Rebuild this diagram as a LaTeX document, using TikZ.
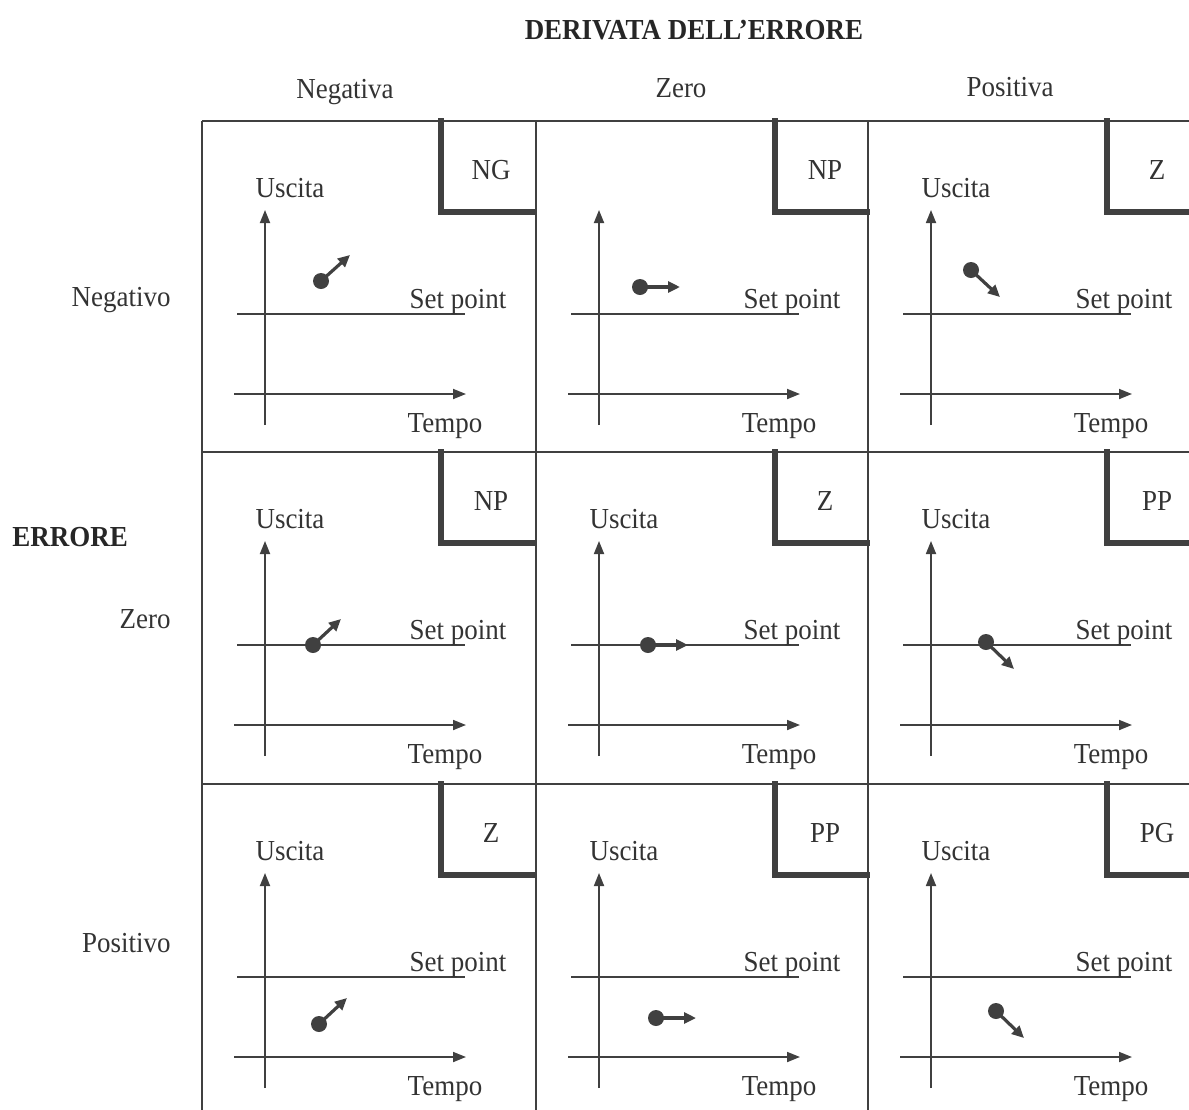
\documentclass[tikz,border=0pt]{standalone}
\usepackage{fontspec}
\setmainfont[FakeStretch=0.93]{Liberation Serif}
\usetikzlibrary{arrows.meta}

\begin{document}
\begin{tikzpicture}[
  x=0.5pt, y=-0.5pt,
  every node/.style={font=\fontsize{14.5}{17}\selectfont, text=black!80, inner sep=0pt},
  head/.style={font=\fontsize{14.5}{17}\selectfont\bfseries, text=black!85},
  grid/.style={draw=black!75, line width=1pt},
  tagbox/.style={draw=black!75, line width=2.6pt},
  axis/.style={draw=black!75, line width=0.9pt, -{Triangle[length=6.5pt, width=5pt]}},
  setline/.style={draw=black!75, line width=0.9pt},
  dot/.style={circle, fill=black!75, minimum size=8pt, inner sep=0pt},
  vec/.style={draw=black!75, line width=1.6pt, -{Triangle[length=6pt, width=5.5pt]}}
]
\useasboundingbox (0,0) rectangle (1189,1109);
\clip (0,0) rectangle (1189,1109);

% Headers
\node[head] (title) at (694,30) {DERIVATA DELL’ERRORE};
\node (col_neg) at (345,92) {Negativa};
\node (col_zero) at (681,88) {Zero};
\node (col_pos) at (1010,87) {Positiva};

\node[head, anchor=west] (err) at (12,537) {ERRORE};
\node[anchor=east] (row_neg) at (171,300) {Negativo};
\node[anchor=east] (row_zero) at (171,619) {Zero};
\node[anchor=east] (row_pos) at (171,943) {Positivo};

% Grid
\foreach \y in {121,452,784} \draw[grid] (202,\y) -- (1200,\y);
\foreach \x in {202,536,868} \draw[grid] (\x,121) -- (\x,1120);

% Cells: index / origin / tag / dot / vector / Uscita shown
\foreach \i/\cx/\cy/\tag/\px/\py/\vx/\vy/\usc in {
  11/202/121/NG/119/160/29/-26/1,
  21/536/121/NP/104/166/40/0/0,
  31/868/121/Z/103/149/29/27/1,
  12/202/452/NP/111/193/28/-26/1,
  22/536/452/Z/112/193/40/0/1,
  32/868/452/PP/118/190/28/27/1,
  13/202/784/Z/117/240/28/-26/1,
  23/536/784/PP/120/234/40/0/1,
  33/868/784/PG/128/227/28/27/1}{
\begin{scope}[shift={(\cx,\cy)}]
  % tag box
  \coordinate (ta\i) at (239,-3);
  \coordinate (tb\i) at (334,91);
  \draw[tagbox] (ta\i) |- (tb\i);
  \node[anchor=base] (tag\i) at (289,58) {\tag};
  % axes
  \coordinate (yb\i) at (63,304);
  \coordinate (yt\i) at (63,89);
  \coordinate (xb\i) at (32,273);
  \coordinate (xt\i) at (264,273);
  \draw[axis] (yb\i) -- (yt\i);
  \draw[axis] (xb\i) -- (xt\i);
  \ifnum\usc=1 \node[anchor=base] (usc\i) at (88,76) {Uscita}; \fi
  \node[anchor=base] (tmp\i) at (243,311) {Tempo};
  % set point
  \coordinate (sa\i) at (35,193);
  \coordinate (sb\i) at (263,193);
  \draw[setline] (sa\i) -- (sb\i);
  \node[anchor=base] (sp\i) at (256,187) {Set point};
  % output point and trend
  \node[dot] (dot\i) at (\px,\py) {};
  \coordinate (tip\i) at (\px+\vx,\py+\vy);
  \draw[vec] (dot\i.center) -- (tip\i);
\end{scope}
}
\end{tikzpicture}
\end{document}
